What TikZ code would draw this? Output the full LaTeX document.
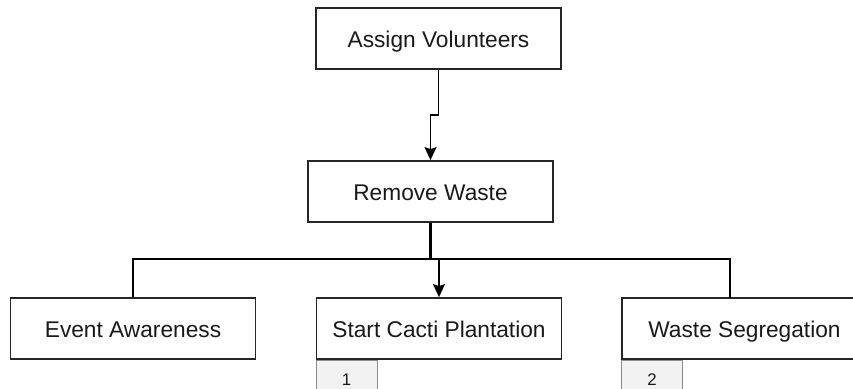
\documentclass[tikz,border=0pt]{standalone}
\usepackage{fontspec}
\setmainfont{Liberation Sans}
\usetikzlibrary{positioning, arrows.meta, calc}

\begin{document}
\begin{tikzpicture}[
        x=0.5pt, y=-0.5pt,
        task/.style={rectangle, draw=black!85, line width=0.9pt, minimum width=122.5pt, minimum height=30.5pt, text centered, text=black!90, font=\fontsize{11.35}{13.6}\selectfont, inner sep=0pt, text height=9.4pt, text depth=0pt},
        numcell/.style={rectangle, draw=black!45, fill=black!5, line width=0.5pt, minimum width=30.5pt, minimum height=19pt, anchor=north west, text=black!90, font=\fontsize{8.4}{10}\selectfont, inner sep=0pt},
        arrow/.style={line width=0.7pt, -{Stealth[length=6.5pt, width=6pt, inset=1pt]}},
        bus/.style={line width=1.4pt}
    ]
    \clip (0,0) rectangle (853,389);

    % Nodes
    \node (Assign) [task] at (438.5,38.5) {Assign Volunteers};
    \node (Remove) [task] at (430.5,191.5) {Remove Waste};
    \node (Awareness) [task] at (133,328.5) {Event Awareness};
    \node (Cacti) [task] at (439,328.5) {Start Cacti Plantation};
    \node (Segregation) [task] at (744.5,328.5) {Waste Segregation};

    % Number cells
    \node (CactiNum) [numcell] at (Cacti.south west) {1};
    \node (SegNum) [numcell] at (Segregation.south west) {2};

    \coordinate (BusMid) at (430.5,259);
    \coordinate (SegTop) at (730,298);

    % Arrows
    \draw [arrow] (Assign.south) -- ($(Assign.south)!0.5!(Assign.south |- Remove.north)$) -| (Remove.north);
    \draw [bus] (Remove.south) -- (BusMid);
    \draw [bus] (Awareness.north) -- (Awareness.north |- BusMid) -- (BusMid -| SegTop) -- (SegTop);
    \draw [arrow] (Cacti.north |- BusMid) -- (Cacti.north);

\end{tikzpicture}
\end{document}
